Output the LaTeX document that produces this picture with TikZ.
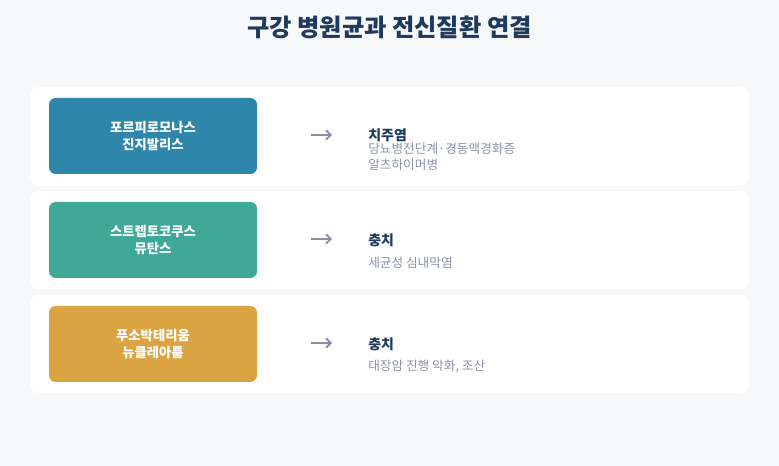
\documentclass[tikz,border=0pt]{standalone}
\usepackage{fontspec}
\setmainfont{Noto Sans CJK KR}
\usetikzlibrary{arrows.meta}
\definecolor{bg}{HTML}{F7F8FA}
\definecolor{navy}{HTML}{1E3A5F}
\definecolor{cblue}{HTML}{2E86AB}
\definecolor{cgreen}{HTML}{3FA896}
\definecolor{cgold}{HTML}{DBA442}
\definecolor{subgray}{HTML}{8A94A6}
\definecolor{arrgray}{HTML}{8A90A2}
\tikzset{
  card/.style={fill=white, rounded corners=6pt, draw=none},
  bact/.style={rounded corners=5pt, draw=none, text=white, font=\fontsize{10}{13}\selectfont\bfseries, align=center, minimum width=208*0.75pt, minimum height=76*0.75pt},
  head/.style={anchor=west, text=navy, font=\fontsize{10.5}{12}\selectfont\bfseries, inner sep=0pt},
  sub/.style={anchor=north west, text=subgray, font=\fontsize{9.5}{12}\selectfont, align=left, inner sep=0pt},
  arr/.style={draw=arrgray, line width=1.4pt, -{Straight Barb[length=3.5pt,width=7pt]}},
}
\begin{document}
\begin{tikzpicture}[x=0.75pt,y=-0.75pt]
\fill[bg] (0,0) rectangle (779,466);
\useasboundingbox (0,0) rectangle (779,466);
\node[text=navy, font=\fontsize{18.2}{22}\selectfont\bfseries] (title) at (389.5,27) {구강 병원균과 전신질환 연결};

\fill[card] (30,87) rectangle (749,186);
\fill[card] (30,191) rectangle (749,289);
\fill[card] (30,295) rectangle (749,393);

\node[bact, fill=cblue] (b1) at (153,136) {포르피로모나스\\진지발리스};
\node[bact, fill=cgreen] (b2) at (153,240) {스트렙토코쿠스\\뮤탄스};
\node[bact, fill=cgold] (b3) at (153,344) {푸소박테리움\\뉴클레아툼};

\coordinate (a1s) at (311,135); \coordinate (a1e) at (332,135);
\coordinate (a2s) at (311,239); \coordinate (a2e) at (332,239);
\coordinate (a3s) at (311,343); \coordinate (a3e) at (332,343);
\draw[arr] (a1s) -- (a1e);
\draw[arr] (a2s) -- (a2e);
\draw[arr] (a3s) -- (a3e);

\node[head] (h1) at (368,135) {치주염};
\node[sub] (s1) at (368,143) {당뇨병전단계·경동맥경화증\\알츠하이머병};
\node[head] (h2) at (368,240) {충치};
\node[sub] (s2) at (368,257) {세균성 심내막염};
\node[head] (h3) at (368,344) {충치};
\node[sub] (s3) at (368,360) {대장암 진행 악화, 조산};
\end{tikzpicture}
\end{document}
